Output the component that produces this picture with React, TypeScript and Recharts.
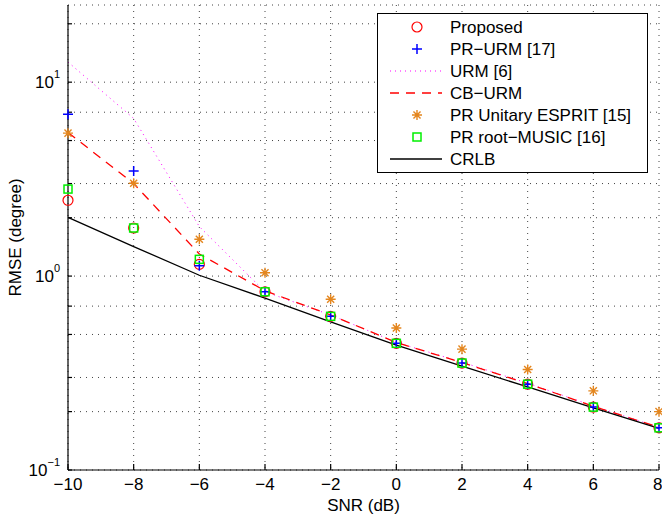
import React from "react"
import { LineChart, Line, XAxis, YAxis, CartesianGrid, Legend } from "recharts"

const snr = [-10, -8, -6, -4, -2, 0, 2, 4, 6, 8]
const proposed = [2.46, 1.77, 1.15, 0.83, 0.62, 0.45, 0.356, 0.277, 0.211, 0.165]
const prUrm = [6.84, 3.48, 1.13, 0.83, 0.62, 0.45, 0.356, 0.277, 0.211, 0.165]
const urm = [12.7, 6.5, 1.8, 0.83, 0.63, 0.455, 0.36, 0.28, 0.214, 0.166]
const cbUrm = [5.5, 3.0, 1.3, 0.84, 0.63, 0.455, 0.358, 0.279, 0.213, 0.166]
const esprit = [5.46, 3.01, 1.55, 1.04, 0.76, 0.54, 0.42, 0.33, 0.256, 0.2]
const rootMusic = [2.81, 1.77, 1.22, 0.83, 0.62, 0.45, 0.356, 0.277, 0.211, 0.165]
const crlb = [2.01, 1.42, 1.01, 0.77, 0.58, 0.44, 0.343, 0.268, 0.209, 0.164]

const xTicks = [-10, -8, -6, -4, -2, 0, 2, 4, 6, 8]
const yTicks = [
  0.1, 0.2, 0.3, 0.4, 0.5, 0.6, 0.7, 0.8, 0.9,
  1, 2, 3, 4, 5, 6, 7, 8, 9,
  10, 20,
]
const yMajor = [0.1, 1, 10]

const legendLabels = [
  "Proposed",
  "PR\u2212URM [17]",
  "URM [6]",
  "CB\u2212URM",
  "PR Unitary ESPRIT [15]",
  "PR root\u2212MUSIC [16]",
  "CRLB",
]

const data = snr.map((s, i) => ({
  snr: s,
  proposed: proposed[i],
  prUrm: prUrm[i],
  urm: urm[i],
  cbUrm: cbUrm[i],
  esprit: esprit[i],
  rootMusic: rootMusic[i],
  crlb: crlb[i],
}))

const FONT = "'Liberation Sans', Arial, Helvetica, sans-serif"
const ORANGE = "#e4861e"
const GREEN = "#00f000"

const Circ = ({ cx, cy }: any) => (
  <circle cx={cx} cy={cy} r={5} fill="none" stroke="#ff0000" strokeWidth={1.2} />
)
const Plus = ({ cx, cy }: any) => (
  <path d={`M${cx - 5},${cy}H${cx + 5}M${cx},${cy - 5}V${cy + 5}`} stroke="#0000ff" strokeWidth={1.5} />
)
const Star = ({ cx, cy }: any) => {
  const r = 5
  const d = r * 0.707
  return (
    <path
      d={`M${cx - r},${cy}H${cx + r}M${cx},${cy - r}V${cy + r}M${cx - d},${cy - d}L${cx + d},${cy + d}M${cx - d},${cy + d}L${cx + d},${cy - d}`}
      stroke={ORANGE}
      strokeWidth={1.4}
    />
  )
}
const Sq = ({ cx, cy }: any) => (
  <rect x={cx - 4} y={cy - 4} width={8} height={8} fill="none" stroke={GREEN} strokeWidth={1.5} />
)

const fmtX = (v: number) => (v < 0 ? "\u2212" + Math.abs(v) : String(v))

const YTick = ({ x, y, payload }: any) => {
  if (!yMajor.includes(payload.value)) return <g />
  const e = Math.round(Math.log10(payload.value))
  return (
    <text x={x} y={y} dy="0.35em" textAnchor="end" fontSize={17} fontFamily={FONT} fill="#000">
      <tspan>10</tspan>
      <tspan dy={-10} fontSize={11}>{e < 0 ? "\u2212" + Math.abs(e) : e}</tspan>
    </text>
  )
}

const LegendBox = () => {
  const rowY = (i: number) => 14 + i * 22
  return (
    <svg width={272} height={161} style={{ display: "block" }}>
      <rect x={0.5} y={0.5} width={270} height={159} fill="#fff" stroke="#000" strokeWidth={1} />
      <Circ cx={40} cy={rowY(0)} />
      <Plus cx={40} cy={rowY(1)} />
      <line x1={13} x2={65} y1={rowY(2)} y2={rowY(2)} stroke="#ff00ff" strokeDasharray="1 4" />
      <line x1={13} x2={65} y1={rowY(3)} y2={rowY(3)} stroke="#ff0000" strokeWidth={1.3} strokeDasharray="9 7" />
      <Star cx={40} cy={rowY(4)} />
      <Sq cx={40} cy={rowY(5)} />
      <line x1={13} x2={65} y1={rowY(6)} y2={rowY(6)} stroke="#000" strokeWidth={1.3} />
      {legendLabels.map((t, i) => (
        <text key={t} x={73} y={rowY(i)} dy="0.35em" fontSize={17} fontFamily={FONT} fill="#000">
          {t}
        </text>
      ))}
    </svg>
  )
}

export default function App() {
  return (
    <div style={{ position: "absolute", left: 0, top: 0, background: "#fff" }}>
      <LineChart width={662} height={518} data={data} margin={{ top: 5, right: 3, bottom: 18, left: 8 }}>
        <CartesianGrid stroke="#444" strokeDasharray="1 5" strokeWidth={1} />
        <XAxis
          dataKey="snr"
          type="number"
          domain={[-10, 8]}
          ticks={xTicks}
          tickFormatter={fmtX}
          height={30}
          stroke="#000"
          strokeWidth={1.2}
          tickSize={-6}
          tickMargin={14}
          tick={{ fontSize: 17, fontFamily: FONT, fill: "#000" }}
          label={(p: any) => {
            const vb = p.viewBox
            return (
              <text x={vb.x + vb.width / 2} y={511} textAnchor="middle" fontSize={17} fontFamily={FONT} fill="#000">
                SNR (dB)
              </text>
            )
          }}
        />
        <XAxis
          xAxisId="top"
          orientation="top"
          type="number"
          domain={[-10, 8]}
          ticks={xTicks}
          height={0}
          stroke="#000"
          strokeWidth={1.2}
          tickSize={-6}
          tick={false}
        />
        <YAxis
          type="number"
          scale="log"
          domain={[0.1, 25]}
          ticks={yTicks}
          width={60}
          stroke="#000"
          strokeWidth={1.2}
          tickSize={-4}
          tickMargin={12}
          tick={<YTick />}
          label={(p: any) => {
            const vb = p.viewBox
            const cy = vb.y + vb.height / 2
            return (
              <text x={21} y={cy} transform={`rotate(-90, 21, ${cy})`} textAnchor="middle" fontSize={17} fontFamily={FONT} fill="#000">
                RMSE (degree)
              </text>
            )
          }}
        />
        <YAxis
          yAxisId="right"
          orientation="right"
          type="number"
          scale="log"
          domain={[0.1, 25]}
          allowDataOverflow
          ticks={yTicks}
          width={0}
          stroke="#000"
          strokeWidth={1.2}
          tickSize={-4}
          tick={false}
        />
        <Legend
          layout="vertical"
          verticalAlign="middle"
          align="center"
          wrapperStyle={{ left: 377, top: 13, width: 272, height: 161 }}
          content={() => <LegendBox />}
        />
        <Line dataKey="proposed" stroke="none" isAnimationActive={false} dot={(p: any) => <Circ key={`c${p.index}`} cx={p.cx} cy={p.cy} />} />
        <Line dataKey="prUrm" stroke="none" isAnimationActive={false} dot={(p: any) => <Plus key={`p${p.index}`} cx={p.cx} cy={p.cy} />} />
        <Line dataKey="urm" stroke="#ff00ff" strokeWidth={1} strokeDasharray="1 4" dot={false} isAnimationActive={false} />
        <Line dataKey="cbUrm" stroke="#ff0000" strokeWidth={1.3} strokeDasharray="9 7" dot={false} isAnimationActive={false} />
        <Line dataKey="esprit" stroke="none" isAnimationActive={false} dot={(p: any) => <Star key={`s${p.index}`} cx={p.cx} cy={p.cy} />} />
        <Line dataKey="rootMusic" stroke="none" isAnimationActive={false} dot={(p: any) => <Sq key={`q${p.index}`} cx={p.cx} cy={p.cy} />} />
        <Line dataKey="crlb" stroke="#000" strokeWidth={1.3} dot={false} isAnimationActive={false} />
      </LineChart>
    </div>
  )
}
